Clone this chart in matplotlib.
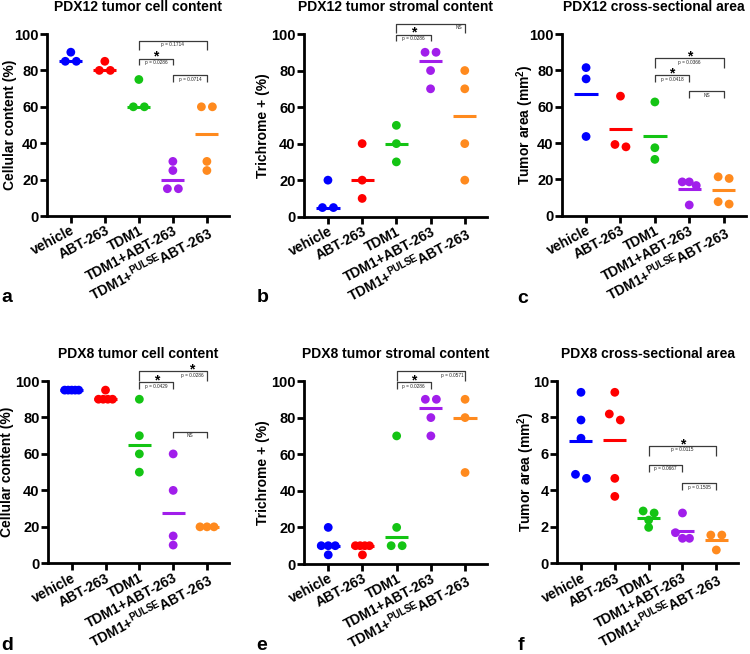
import numpy as np
import matplotlib
matplotlib.use('Agg')
import matplotlib.pyplot as plt
from matplotlib.transforms import offset_copy

plt.rcParams['font.family'] = ['Liberation Sans', 'DejaVu Sans']
plt.rcParams['font.weight'] = 'bold'
plt.rcParams['mathtext.fontset'] = 'custom'
plt.rcParams['mathtext.rm'] = 'Liberation Sans:bold'
plt.rcParams['mathtext.bf'] = 'Liberation Sans:bold'
plt.rcParams['mathtext.it'] = 'Liberation Sans:bold'

# ---------------- data ----------------
groups = ['vehicle', 'ABT-263', 'TDM1', 'TDM1+ABT-263',
          r'TDM1+$^{\mathrm{PULSE}}$ABT-263']
colors = ['#0000FF', '#FF0000', '#14C414', '#A11EEB', '#FF8A1E']

a_vals = [[90, 85, 85], [85, 80, 80], [75, 60, 60], [30, 25, 15, 15], [60, 60, 30, 25]]
b_vals = [[20, 5, 5], [40, 20, 10], [50, 40, 30], [90, 90, 80, 70], [80, 70, 40, 20]]
c_vals = [[81.5, 75.3, 43.6], [65.8, 39.2, 37.9], [62.6, 37.4, 31.0],
          [18.6, 18.6, 16.6, 5.9], [21.4, 20.5, 7.7, 6.4]]
d_vals = [[95, 95, 95, 95, 95], [95, 90, 90, 90, 90], [90, 70, 60, 50],
          [60, 40, 15, 10], [20, 20, 20]]
e_vals = [[20, 10, 10, 10, 5], [10, 10, 10, 10, 5], [70, 20, 10, 10],
          [90, 90, 80, 70], [90, 80, 50]]
f_vals = [[9.38, 7.86, 6.86, 4.88, 4.66], [9.38, 8.19, 7.86, 4.66, 3.67],
          [2.87, 2.76, 2.37, 1.97], [2.76, 1.68, 1.37, 1.37], [1.55, 1.55, 0.73]]

titles = ['PDX12 tumor cell content', 'PDX12 tumor stromal content',
          'PDX12 cross-sectional area', 'PDX8 tumor cell content',
          'PDX8 tumor stromal content', 'PDX8 cross-sectional area']
ylabels = ['Cellular content (%)', 'Trichrome + (%)', r'Tumor area (mm$^{2}$)',
           'Cellular content (%)', 'Trichrome + (%)', r'Tumor area (mm$^{2}$)']
stats = ['median', 'median', 'mean', 'median', 'median', 'mean']
ymaxes = [100, 100, 100, 100, 100, 10]
letters = ['a', 'b', 'c', 'd', 'e', 'f']

# brackets: (from group, to group, height, text, star, text x)
a_br = [(2, 3, 86.5, 'p = 0.0286', True, None), (2, 4, 96.2, 'p = 0.1714', False, None),
        (3, 4, 77.3, 'p = 0.0714', False, None)]
b_br = [(2, 3, 99.7, 'p = 0.0286', True, None), (2, 4, 105.7, 'NS', False, 3.83)]
c_br = [(2, 3, 77.3, 'p = 0.0418', True, None), (2, 4, 86.6, 'p = 0.0366', True, None),
        (3, 4, 68.5, 'NS', False, None)]
d_br = [(2, 3, 99.3, 'p = 0.0429', True, None), (2, 4, 105.3, 'p = 0.0286', True, 3.56),
        (3, 4, 72.2, 'NS', False, None)]
e_br = [(2, 3, 99.3, 'p = 0.0286', True, None), (2, 4, 105.4, 'p = 0.0571', False, 3.64)]
f_br = [(2, 4, 6.43, 'p = 0.0115', True, None), (2, 3, 5.39, 'p = 0.0667', False, None),
        (3, 4, 4.39, 'p = 0.1505', False, None)]

all_vals = [a_vals, b_vals, c_vals, d_vals, e_vals, f_vals]
all_br = [a_br, b_br, c_br, d_br, e_br, f_br]

# ---------------- layout (pixels) ----------------
W, H = 750, 654
boxes = [(47, 229, 34, 216), (304, 487, 34, 216.7), (562, 746, 34, 215.7),
         (48, 229, 381, 563.3), (304.3, 487.3, 381, 564), (557.3, 738.3, 381, 563.3)]
ylab_x = [10, 263, 525, 7, 263, 526.5]
letter_pos = [(1.5, 301.7), (256.5, 301.7), (517, 302.7), (1.5, 650.0), (256.5, 650.0), (518, 650.0)]
XLIM = (-0.7, 4.65)

fig = plt.figure(figsize=(W / 100, H / 100), dpi=100)


def swarm(vals, px_y, px_x):
    order = sorted(range(len(vals)), key=lambda k: -vals[k])
    rows = []
    for k in order:
        if rows and abs(vals[rows[-1][0]] - vals[k]) * px_y < 7:
            rows[-1].append(k)
        else:
            rows.append([k])
    offs = np.zeros(len(vals))
    for row in rows:
        n = len(row)
        if n == 1:
            continue
        sp = min(11.0, 14.0 / (n - 1))
        for m, k in enumerate(row):
            offs[k] = (m - (n - 1) / 2) * sp / px_x
    return offs


for p in range(6):
    l, r, t, b = boxes[p]
    ax = fig.add_axes([l / W, 1 - b / H, (r - l) / W, (b - t) / H])
    ymax = ymaxes[p]
    ax.set_xlim(*XLIM)
    ax.set_ylim(0, ymax)
    px_y = (b - t) / ymax
    px_x = (r - l) / (XLIM[1] - XLIM[0])
    for i, vals in enumerate(all_vals[p]):
        offs = swarm(vals, px_y, px_x)
        ax.scatter(i + offs, vals, s=40, color=colors[i], edgecolors='none',
                   zorder=3, clip_on=False)
        c = np.median(vals) if stats[p] == 'median' else np.mean(vals)
        ax.hlines(c, i - 0.34, i + 0.34, color=colors[i], lw=2.2, zorder=2)

    # brackets
    for (i, j, y, txt, star, tx) in all_br[p]:
        leg = (9.5 if j - i == 2 else 6.7) / px_y
        ax.plot([i, i, j, j], [y - leg, y, y, y - leg], color='#3a3a3a', lw=0.9,
                clip_on=False, solid_capstyle='butt')
        xc = (i + j) / 2 if tx is None else tx
        tr = offset_copy(ax.transData, fig=fig, x=0, y=-2.8, units='points')
        ax.text(xc, y, txt, fontsize=3.4, fontweight='normal', ha='center',
                va='center', transform=tr, clip_on=False, color='#222222')
        if star:
            trs = offset_copy(ax.transData, fig=fig, x=0, y=-1.6, units='points')
            ax.text(xc, y, '*', fontsize=10, ha='center', va='baseline',
                    transform=trs, clip_on=False)

    for s in ['top', 'right']:
        ax.spines[s].set_visible(False)
    for s in ['left', 'bottom']:
        ax.spines[s].set_linewidth(2)
    ax.set_xticks(range(5))
    ax.set_xticklabels(groups, rotation=28, ha='right', va='top',
                       rotation_mode='anchor', fontsize=10, fontweight='bold')
    ax.set_yticks(np.linspace(0, ymax, 6))
    ax.set_yticklabels([f'{v:g}' for v in np.linspace(0, ymax, 6)],
                       fontsize=10.5, fontweight='bold')
    ax.tick_params(axis='both', direction='out', length=5, width=2, pad=2)
    ax.tick_params(axis='x', pad=0.5)
    ax.tick_params(axis='y', pad=1)

    ax.set_ylabel(ylabels[p], fontsize=10, fontweight='bold', va='center')
    ax.yaxis.set_label_coords((ylab_x[p] - l) / (r - l), 0.5)
    fig.text((l + r) / 2 / W, 1 - (t - 27) / H, titles[p], fontsize=10,
             fontweight='bold', ha='center', va='center')
    lx, ly = letter_pos[p]
    fig.text(lx / W, 1 - ly / H, letters[p], fontsize=14, fontweight='bold',
             ha='left', va='baseline')

fig.savefig('out.png', dpi=100)
